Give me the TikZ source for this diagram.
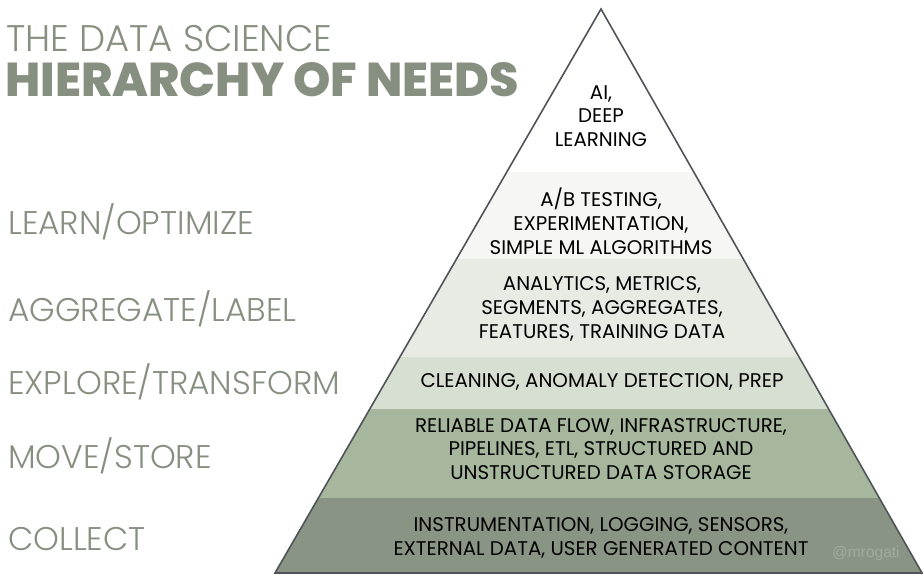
\documentclass[tikz,border=0pt]{standalone}
\usepackage{fontspec}
\setmainfont{Poppins}
\newfontfamily\needlight{Poppins Light}
\newfontfamily\needheavy{Poppins ExtraBold}
\newfontfamily\helv{Liberation Sans}
\definecolor{sage}{HTML}{878F80}
\definecolor{bandab}{HTML}{F6F6F4}
\definecolor{bandan}{HTML}{E8EBE4}
\definecolor{bandcl}{HTML}{D6DFD1}
\definecolor{bandre}{HTML}{A7B79D}
\definecolor{bandin}{HTML}{8A9484}
\definecolor{rim}{HTML}{505458}
\definecolor{tagtext}{HTML}{A3AA9E}

\begin{document}
\begin{tikzpicture}[x=1pt,y=-1pt,
tier/.style={align=center,inner sep=0pt,text=black,font=\fontsize{19.8}{23.8}\selectfont},
need/.style={anchor=west,inner sep=0pt,text=sage,font=\needlight\fontsize{32.8}{34}\selectfont}]

\useasboundingbox(0,0)rectangle(923,576);
\coordinate(apex)at(601,9);
\coordinate(left)at(275,573);
\coordinate(right)at(922,573);

\begin{scope}
\clip(apex)--(left)--(right)--cycle;
\fill[bandab](0,172)rectangle(923,259);
\fill[bandan](0,259)rectangle(923,357);
\fill[bandcl](0,357)rectangle(923,409);
\fill[bandre](0,409)rectangle(923,498);
\fill[bandin](0,498)rectangle(923,576);
\end{scope}
\draw[rim,line width=1.6pt](apex)--(left)--(right)--cycle;

\node[tier](ai)at(601,116){AI,\\DEEP\\LEARNING};
\node[tier](ab)at(601,221){A/B TESTING,\\EXPERIMENTATION,\\SIMPLE ML ALGORITHMS};
\node[tier](an)at(602,309){ANALYTICS, METRICS,\\SEGMENTS, AGGREGATES,\\FEATURES, TRAINING DATA};
\node[tier](cl)at(602,382){CLEANING, ANOMALY DETECTION, PREP};
\node[tier](re)at(601,449){RELIABLE DATA FLOW, INFRASTRUCTURE,\\PIPELINES, ETL, STRUCTURED AND\\UNSTRUCTURED DATA STORAGE};
\node[tier](in)at(601,538){INSTRUMENTATION, LOGGING, SENSORS,\\EXTERNAL DATA, USER GENERATED CONTENT};
\node[inner sep=0pt,anchor=west,text=tagtext,font=\helv\fontsize{15.5}{17}\selectfont](tag)at(832,553){@mrogati};

\node[need](learn)at(8,221.5){LEARN/OPTIMIZE};
\node[need](aggregate)at(8,308.5){AGGREGATE/LABEL};
\node[need](explore)at(8,382){EXPLORE/TRANSFORM};
\node[need](move)at(8,455.5){MOVE/STORE};
\node[need](collect)at(8,539){COLLECT};

\node[anchor=north west,inner sep=0pt,text=sage,font=\needlight\fontsize{37}{40}\selectfont](the)at(6,25){THE DATA SCIENCE};
\node[anchor=north west,inner sep=0pt,text=sage,font=\needheavy\fontsize{47.5}{49}\selectfont](hier)at(5,62){HIERARCHY OF NEEDS};

\end{tikzpicture}
\end{document}
